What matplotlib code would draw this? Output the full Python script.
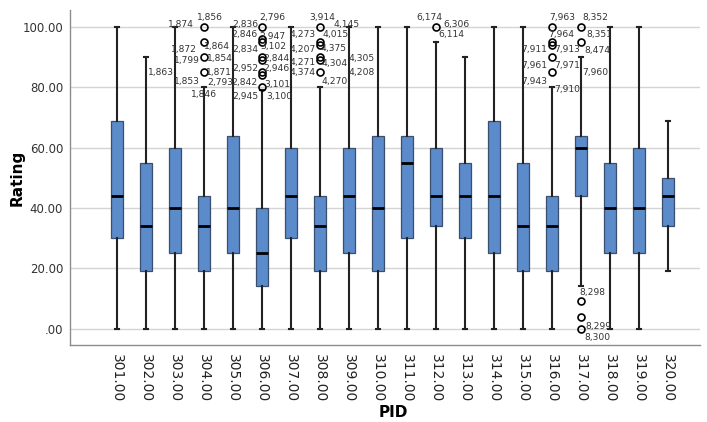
import matplotlib
matplotlib.use('Agg')
import matplotlib.pyplot as plt

# PID groups and box statistics (Rating)
pids = [301, 302, 303, 304, 305, 306, 307, 308, 309, 310,
        311, 312, 313, 314, 315, 316, 317, 318, 319, 320]
q1 = [30, 19, 25, 19, 25, 14, 30, 19, 25, 19, 30, 34, 30, 25, 19, 19, 44, 25, 25, 34]
med = [44, 34, 40, 34, 40, 25, 44, 34, 44, 40, 55, 44, 44, 44, 34, 34, 60, 40, 40, 44]
q3 = [69, 55, 60, 44, 64, 40, 60, 44, 60, 64, 64, 60, 55, 69, 55, 44, 64, 55, 60, 50]
whislo = [0, 0, 0, 0, 0, 0, 0, 0, 0, 0, 0, 0, 0, 0, 0, 0, 14, 0, 0, 19]
whishi = [100, 90, 100, 80, 100, 79, 100, 80, 100, 100, 100, 95, 90, 100, 100, 80, 90, 100, 100, 69]
fliers = {
    304: [85, 90, 95, 100],
    306: [80, 84, 85, 89, 90, 95, 96, 100],
    308: [85, 89, 90, 94, 95, 100],
    312: [100],
    316: [85, 90, 94, 95, 100],
    317: [0, 4, 9, 95, 100],
}

# case labels: (pid, offset from box centre, rating level of text)
case_labels = [
    (304, '1,874', -0.79, 101.0), (304, '1,856', 0.21, 103.3), (304, '1,872', -0.69, 92.7),
    (304, '1,864', 0.45, 93.4), (304, '1,799', -0.59, 88.8), (304, '1,854', 0.55, 89.4),
    (304, '1,863', -1.48, 84.8), (304, '1,871', 0.52, 84.8), (304, '1,853', -0.59, 82.1),
    (304, '2,793', 0.55, 81.5), (304, '1,846', 0.0, 77.5),
    (306, '2,836', -0.59, 101.0), (306, '2,796', 0.34, 103.3), (306, '2,846', -0.59, 97.4),
    (306, '2,947', 0.34, 97.0), (306, '2,834', -0.59, 92.7), (306, '3,102', 0.41, 93.4),
    (306, '2,952', -0.59, 86.1), (306, '2,844', 0.48, 89.7), (306, '2,842', -0.59, 81.5),
    (306, '2,946', 0.48, 86.1), (306, '2,945', -0.59, 76.9), (306, '3,101', 0.52, 81.1),
    (306, '3,100', 0.59, 76.9),
    (308, '3,914', 0.07, 103.3), (308, '4,273', -0.59, 97.4), (308, '4,015', 0.52, 97.4),
    (308, '4,207', -0.59, 92.4), (308, '4,375', 0.48, 93.0), (308, '4,271', -0.59, 88.4),
    (308, '4,304', 0.52, 87.8), (308, '4,374', -0.59, 84.8), (308, '4,270', 0.52, 82.1),
    (309, '4,145', -0.1, 101.0), (309, '4,305', 0.45, 89.7), (309, '4,208', 0.45, 84.8),
    (312, '6,174', -0.21, 103.3), (312, '6,306', 0.72, 100.7), (312, '6,114', 0.52, 97.4),
    (316, '7,963', 0.34, 103.3), (316, '7,964', 0.31, 97.4), (316, '7,911', -0.62, 92.4),
    (316, '7,913', 0.52, 92.4), (316, '7,961', -0.62, 87.1), (316, '7,971', 0.52, 87.4),
    (316, '7,943', -0.62, 82.1), (316, '7,910', 0.52, 79.2),
    (317, '8,352', 0.48, 103.3), (317, '8,351', 0.62, 97.4), (317, '8,474', 0.55, 92.1),
    (317, '7,960', 0.48, 84.8), (317, '8,298', 0.38, 12.0), (317, '8,299', 0.59, 0.8),
    (317, '8,300', 0.55, -2.9),
]

stats = []
for i, p in enumerate(pids):
    stats.append({'med': med[i], 'q1': q1[i], 'q3': q3[i],
                  'whislo': whislo[i], 'whishi': whishi[i],
                  'fliers': fliers.get(p, [])})

fig = plt.figure(figsize=(7.07, 4.22), dpi=100)
ax = fig.add_axes([0.099, 0.182, 0.891, 0.794])

for v in range(0, 101, 20):
    ax.axhline(v, color='#d4d4d4', lw=1, zorder=0)

pos = list(range(len(pids)))
ax.bxp(stats, positions=pos, widths=0.42, patch_artist=True, capwidths=0.12,
       boxprops=dict(facecolor='#5b8bca', edgecolor='#3a4f6e', linewidth=0.9),
       medianprops=dict(color='black', linewidth=2),
       whiskerprops=dict(color='#222222', linewidth=1.5),
       capprops=dict(color='#222222', linewidth=1.5),
       flierprops=dict(marker='o', markersize=5, markerfacecolor='none',
                       markeredgecolor='black', markeredgewidth=1.2))

for p, txt, dx, y in case_labels:
    ax.text(pids.index(p) + dx, y, txt, fontsize=6.6, color='#333333',
            ha='center', va='center')

ax.set_xlim(-1.62, 20.1)
ax.set_ylim(-5.5, 105.6)
ax.set_yticks([0, 20, 40, 60, 80, 100])
ax.set_yticklabels(['.00', '20.00', '40.00', '60.00', '80.00', '100.00'], fontsize=8.5, color='#333333')
ax.set_xticks(pos)
ax.set_xticklabels(['%.2f' % p for p in pids], rotation=270, fontsize=10, color='#222222')
ax.tick_params(length=0, pad=5)
ax.tick_params(axis='x', pad=6)
for s in ['top', 'right']:
    ax.spines[s].set_visible(False)
for s in ['left', 'bottom']:
    ax.spines[s].set_color('#8c8c8c')
    ax.spines[s].set_linewidth(1)

ax.set_ylabel('Rating', fontsize=11, fontweight='bold', va='center')
ax.yaxis.set_label_coords(-0.084, 0.5)
ax.set_xlabel('PID', fontsize=11, fontweight='bold', va='center')
ax.xaxis.set_label_coords(0.513, -0.2)

fig.savefig('out.png', dpi=100)
